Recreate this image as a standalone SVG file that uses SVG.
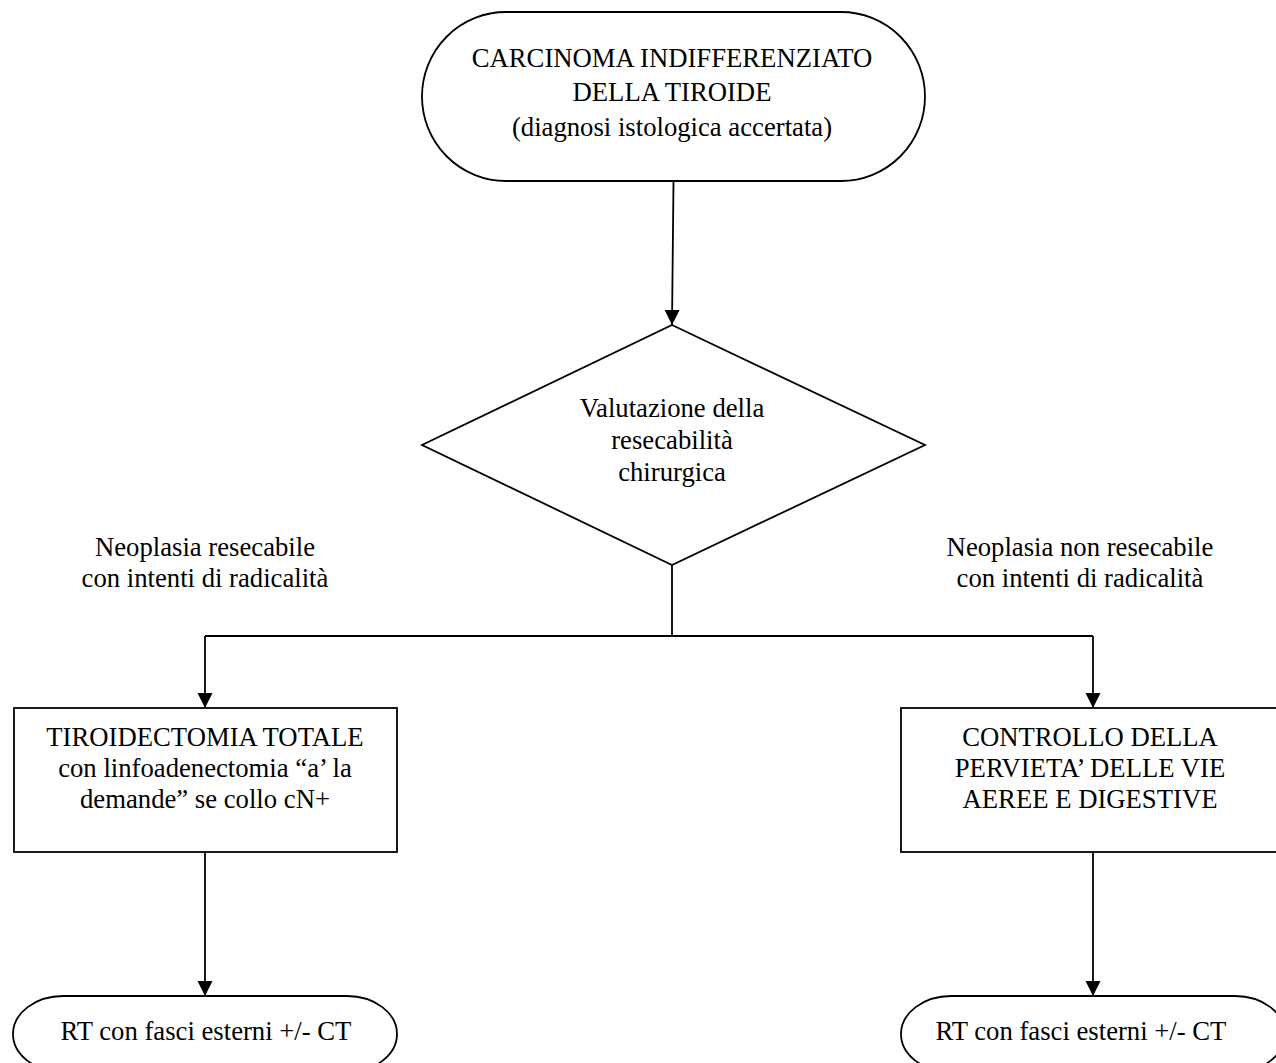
<svg xmlns="http://www.w3.org/2000/svg" width="1276" height="1063" viewBox="0 0 1276 1063">
<style>
.s{fill:#fff;stroke:#000;stroke-width:1.8}
.t{font-family:"Liberation Serif","Times New Roman",serif;font-size:26.7px;fill:#000;text-anchor:middle}
.c{stroke:#000;stroke-width:1.8;fill:none}
</style>
<defs>
<marker id="ah" markerUnits="userSpaceOnUse" markerWidth="16" markerHeight="16" viewBox="0 0 16 16" refX="15" refY="8" orient="auto">
<path d="M0,0.5 L15,8 L0,15.5 Z" fill="#000"/>
</marker>
</defs>
<rect width="1276" height="1063" fill="#fff"/>
<g id="connectors">
<line class="c" x1="673.5" y1="181" x2="672" y2="325" marker-end="url(#ah)"/>
<line class="c" x1="672" y1="565" x2="672" y2="636"/>
<line class="c" x1="205" y1="636" x2="1093" y2="636"/>
<line class="c" x1="205" y1="636" x2="205" y2="708" marker-end="url(#ah)"/>
<line class="c" x1="1093" y1="636" x2="1093" y2="708" marker-end="url(#ah)"/>
<line class="c" x1="205" y1="852" x2="205" y2="996" marker-end="url(#ah)"/>
<line class="c" x1="1093" y1="852" x2="1093" y2="996" marker-end="url(#ah)"/>
</g>
<g id="start">
<path class="s" d="M506,12 H841 A84 84.5 0 0 1 841,181 H506 A84 84.5 0 0 1 506,12 Z"/>
<text class="t" x="672" y="67">CARCINOMA INDIFFERENZIATO</text>
<text class="t" x="672" y="101">DELLA TIROIDE</text>
<text class="t" x="672" y="136">(diagnosi istologica accertata)</text>
</g>
<g id="decision">
<path class="s" d="M672,325 L925,445 L672,565 L422,445 Z"/>
<text class="t" x="672" y="417">Valutazione della</text>
<text class="t" x="672" y="449">resecabilità</text>
<text class="t" x="672" y="481">chirurgica</text>
</g>
<g id="label-left">
<text class="t" x="205" y="556">Neoplasia resecabile</text>
<text class="t" x="205" y="587">con intenti di radicalità</text>
</g>
<g id="label-right">
<text class="t" x="1080" y="556">Neoplasia non resecabile</text>
<text class="t" x="1080" y="587">con intenti di radicalità</text>
</g>
<g id="surgery">
<rect class="s" x="14" y="708" width="383" height="144"/>
<text class="t" x="205" y="746">TIROIDECTOMIA TOTALE</text>
<text class="t" x="205" y="777">con linfoadenectomia “a’ la</text>
<text class="t" x="205" y="808">demande” se collo cN+</text>
</g>
<g id="airway">
<rect class="s" x="901" y="708" width="380" height="144"/>
<text class="t" x="1090" y="746">CONTROLLO DELLA</text>
<text class="t" x="1090" y="777">PERVIETA’ DELLE VIE</text>
<text class="t" x="1090" y="808">AEREE E DIGESTIVE</text>
</g>
<g id="rt-left">
<path class="s" d="M63,996 H347 A50 38 0 0 1 347,1072 H63 A50 38 0 0 1 63,996 Z"/>
<text class="t" x="206" y="1040">RT con fasci esterni +/- CT</text>
</g>
<g id="rt-right">
<path class="s" d="M951,996 H1235 A50 38 0 0 1 1235,1072 H951 A50 38 0 0 1 951,996 Z"/>
<text class="t" x="1081" y="1040">RT con fasci esterni +/- CT</text>
</g>
</svg>
